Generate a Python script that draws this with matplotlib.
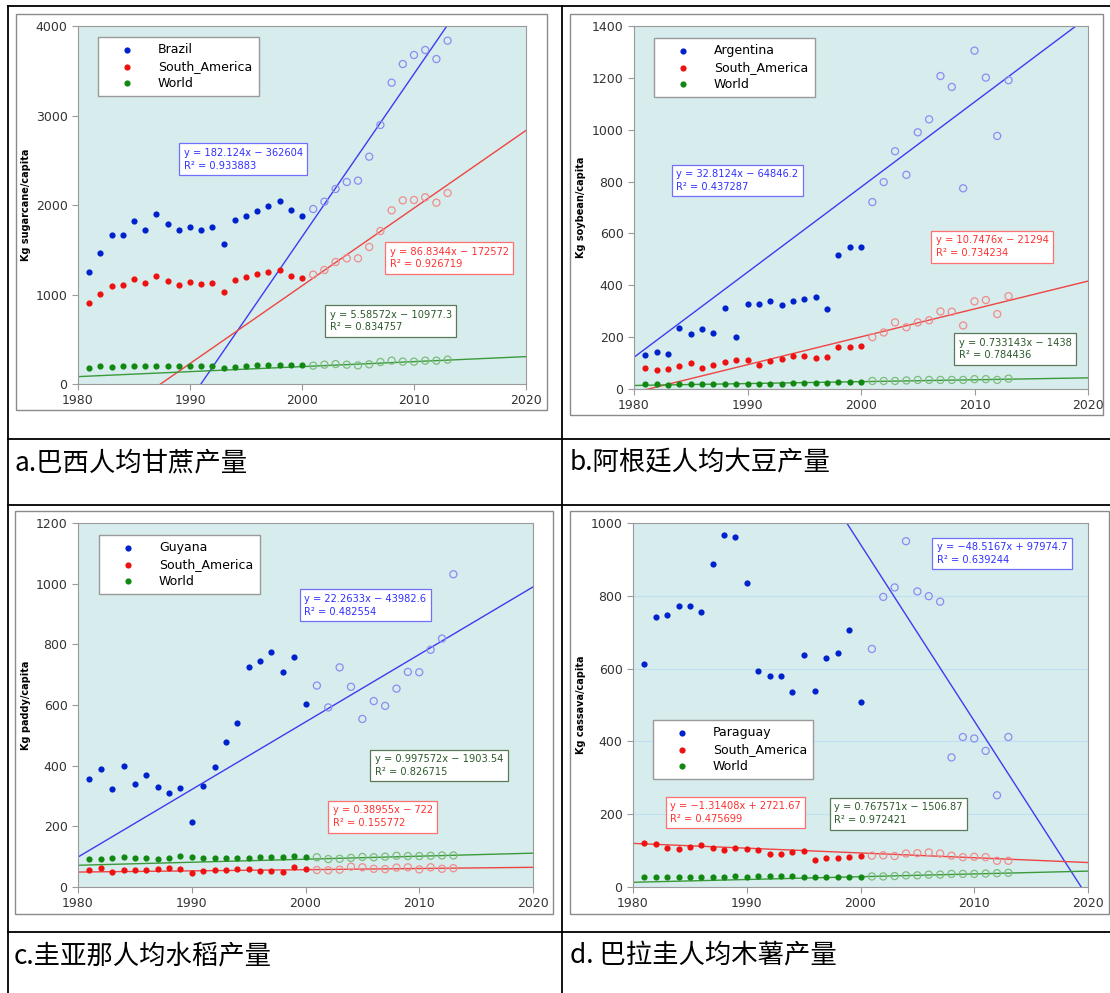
import numpy as np
import matplotlib.pyplot as plt
from matplotlib.lines import Line2D
from matplotlib.patches import Rectangle

years = np.arange(1981, 2014)

# a. sugarcane (kg/capita)
brazil_sugarcane = [1255, 1467, 1661, 1665, 1817, 1717, 1896, 1788, 1717, 1754,
                    1717, 1754, 1561, 1832, 1877, 1929, 1989, 2041, 1948, 1877,
                    1955, 2037, 2179, 2257, 2272, 2540, 2894, 3367, 3575, 3676,
                    3732, 3631, 3836]
sa_sugarcane = [901, 1009, 1099, 1102, 1177, 1125, 1207, 1151, 1106, 1136,
                1117, 1132, 1024, 1162, 1192, 1229, 1251, 1277, 1207, 1181,
                1222, 1274, 1363, 1404, 1404, 1531, 1709, 1940, 2052, 2056,
                2086, 2026, 2134]
world_sugarcane = [175, 197, 194, 201, 197, 197, 199, 197, 199, 201,
                   205, 201, 182, 190, 205, 212, 216, 216, 216, 212,
                   205, 216, 223, 216, 208, 220, 246, 261, 250, 250,
                   261, 261, 272]
sugarcane_fits = [(182.124, -362604), (86.8344, -172572), (5.58572, -10977.3)]
sugarcane_r2 = [0.933883, 0.926719, 0.834757]

# b. soybean
argentina_soybean = [131, 143, 136, 235, 213, 231, 216, 313, 202, 329,
                     329, 338, 325, 340, 348, 354, 308, 518, 547, 546,
                     721, 798, 917, 826, 990, 1040, 1207, 1165, 774, 1305,
                     1201, 976, 1191]
sa_soybean = [81, 72, 77, 90, 99, 80, 91, 104, 113, 112,
              94, 109, 117, 127, 127, 119, 123, 161, 161, 164,
              200, 218, 257, 238, 257, 265, 299, 298, 245, 338,
              343, 289, 358]
world_soybean = [21, 21, 15, 21, 20, 20, 20, 19, 20, 20,
                 20, 20, 20, 24, 23, 23, 24, 28, 27, 27,
                 31, 31, 31, 33, 35, 35, 35, 35, 35, 38,
                 38, 35, 40]
soybean_fits = [(32.8124, -64846.2), (10.7476, -21294), (0.733143, -1438)]
soybean_r2 = [0.437287, 0.734234, 0.784436]

# c. paddy
guyana_paddy = [356, 388, 322, 398, 341, 370, 331, 310, 325, 215,
                334, 395, 478, 540, 725, 744, 775, 709, 759, 603,
                664, 592, 724, 660, 554, 613, 597, 654, 709, 708,
                782, 819, 1031]
sa_paddy = [55, 62, 49, 56, 55, 56, 59, 63, 60, 46,
            52, 55, 55, 58, 59, 54, 52, 48, 65, 59,
            56, 55, 57, 67, 65, 60, 59, 64, 65, 58,
            65, 60, 62]
world_paddy = [91, 91, 96, 98, 96, 95, 91, 95, 101, 99,
               97, 97, 96, 96, 96, 98, 98, 98, 102, 99,
               98, 92, 93, 96, 99, 98, 100, 103, 102, 102,
               103, 104, 104]
paddy_fits = [(22.2633, -43982.6), (0.38955, -722), (0.997572, -1903.54)]
paddy_r2 = [0.482554, 0.155772, 0.826715]

# d. cassava
paraguay_cassava = [612, 742, 747, 773, 773, 755, 886, 967, 962, 835,
                    594, 580, 580, 537, 636, 539, 628, 644, 705, 509,
                    654, 797, 823, 950, 812, 799, 784, 356, 412, 408,
                    374, 252, 412]
sa_cassava = [122, 117, 107, 104, 109, 115, 107, 101, 107, 105,
              102, 91, 91, 96, 99, 73, 81, 79, 83, 86,
              86, 87, 85, 92, 93, 95, 92, 86, 82, 83,
              82, 72, 72]
world_cassava = [28, 28, 27, 28, 28, 27, 27, 28, 29, 28,
                 29, 29, 30, 30, 28, 27, 27, 27, 28, 28,
                 29, 29, 30, 32, 32, 34, 34, 36, 36, 36,
                 37, 38, 39]
cassava_fits = [(-48.5167, 97974.7), (-1.31408, 2721.67), (0.767571, -1506.87)]
cassava_r2 = [0.639244, 0.475699, 0.972421]

captions = ['a.巴西人均甘蔗产量', 'b.阿根廷人均大豆产量',
            'c.圭亚那人均水稻产量', 'd. 巴拉圭人均木薯产量']

W, H = 1110, 993
fig = plt.figure(figsize=(W / 100, H / 100), dpi=100)
fig.patch.set_facecolor('white')

dot_colors = ['#0022cc', '#ee1111', '#118811']
open_colors = ['#8c8cf2', '#f08c8c', '#7cbc7c']
line_colors = ['#3c3cf0', '#ee4444', '#3a9a3a']
text_colors = ['#3030ff', '#ff3030', '#2c5a2c']
edge_colors = ['#7070ff', '#ff7070', '#5a7a5a']


def fig_line(x0, y0, x1, y1, color='black', lw=1.3):
    fig.add_artist(Line2D([x0 / W, x1 / W], [1 - y0 / H, 1 - y1 / H],
                          transform=fig.transFigure, color=color, lw=lw))


def fig_frame(l, t, r, b):
    fig.add_artist(Rectangle((l / W, 1 - b / H), (r - l) / W, (b - t) / H,
                             transform=fig.transFigure, fill=False,
                             edgecolor='#8a8a8a', lw=1.0))


def fmt(v):
    return f'{v:g}'.replace('-', '\u2212')


def panel(rect, names, series, fits, r2, ylim, ystep, ylabel, label_x,
          leg_anchor, boxes, grid=False):
    l, t, r, b = rect
    ax = fig.add_axes([l / W, 1 - b / H, (r - l) / W, (b - t) / H])
    ax.set_facecolor('#d7ecec')
    filled = years <= 2000
    xs = np.array([1980, 2020])
    for i in range(3):
        vals = np.array(series[i])
        m, c = fits[i]
        ax.plot(xs, m * xs + c, color=line_colors[i], lw=1.0, zorder=2)
        ax.scatter(years[filled], vals[filled], s=20, color=dot_colors[i],
                   label=names[i], zorder=3, linewidths=0)
        ax.scatter(years[~filled], vals[~filled], s=26, facecolors='none',
                   edgecolors=open_colors[i], linewidths=0.9, zorder=3)
        sign = '+' if c >= 0 else '\u2212'
        txt = f'y = {fmt(m)}x {sign} {abs(c):g}\nR\u00b2 = {r2[i]:g}'
        ax.annotate(txt, xy=boxes[i], xytext=(3.5, -4), textcoords='offset points',
                    ha='left', va='top', fontsize=7.1, color=text_colors[i],
                    linespacing=1.35, zorder=5,
                    bbox=dict(boxstyle='square,pad=0.45', fc='white',
                              ec=edge_colors[i], lw=0.9))
    ax.set_xlim(1980, 2020)
    ax.set_ylim(*ylim)
    ax.set_xticks(range(1980, 2021, 10))
    ax.set_yticks(np.arange(ylim[0], ylim[1] + 1, ystep))
    if grid:
        for yv in np.arange(ylim[0] + ystep, ylim[1], ystep):
            ax.axhline(yv, color='#bfe0f2', lw=0.8, zorder=1)
    for s in ax.spines.values():
        s.set_color('#9a9a9a')
    ax.tick_params(direction='out', length=4, color='#9a9a9a',
                   labelcolor='#333333', labelsize=9, top=False, right=False)
    ax.set_ylabel(ylabel, fontsize=7, fontweight='bold', ha='center', va='center')
    ax.yaxis.set_label_coords((label_x - l) / (r - l), 0.5)
    leg = ax.legend(loc='upper left', bbox_to_anchor=leg_anchor, borderaxespad=0,
                    fontsize=9, frameon=True, fancybox=False, framealpha=1,
                    edgecolor='#9a9a9a', borderpad=0.5, handlelength=3.6,
                    handletextpad=0.7, labelspacing=0.3, scatterpoints=1)
    leg.get_frame().set_linewidth(1.0)
    leg.set_zorder(6)
    return ax


# table rules
fig_line(8, 6, W, 6)
fig_line(8, 6, 8, H)
fig_line(562, 6, 562, H)
for yy in (439, 505, 932):
    fig_line(8, yy, W, yy)

# embedded chart frames
fig_frame(16, 14, 547, 410)
fig_frame(570, 14, 1103, 415)
fig_frame(15, 511, 553, 914)
fig_frame(570, 511, 1109, 914)

panel((78, 26, 526, 384), ['Brazil', 'South_America', 'World'],
      [brazil_sugarcane, sa_sugarcane, world_sugarcane], sugarcane_fits, sugarcane_r2,
      (0, 4000), 1000, 'Kg sugarcane/capita', 26,
      (20 / 448, 1 - 11 / 358),
      [(1989.0, 2700), (2007.4, 1598), (2002.05, 894)])

panel((634, 26, 1088, 389), ['Argentina', 'South_America', 'World'],
      [argentina_soybean, sa_soybean, world_soybean], soybean_fits, soybean_r2,
      (0, 1400), 200, 'Kg soybean/capita', 581,
      (20 / 454, 1 - 12 / 363),
      [(1983.27, 870), (2006.16, 614), (2008.2, 220)])

panel((78, 523, 533, 887), ['Guyana', 'South_America', 'World'],
      [guyana_paddy, sa_paddy, world_paddy], paddy_fits, paddy_r2,
      (0, 1200), 200, 'Kg paddy/capita', 26,
      (21 / 455, 1 - 12 / 364),
      [(1999.45, 985), (2001.96, 287), (2005.66, 456)])

panel((633, 523, 1088, 887), ['Paraguay', 'South_America', 'World'],
      [paraguay_cassava, sa_cassava, world_cassava], cassava_fits, cassava_r2,
      (0, 1000), 200, 'Kg cassava/capita', 581,
      (20 / 455, 1 - 197 / 364),
      [(2006.28, 963), (1982.84, 251), (1997.27, 248)], grid=True)

cap_font = ['Noto Sans CJK SC', 'DejaVu Sans']
for (cx, cy), cap in zip([(14, 463), (570, 463), (14, 956), (570, 956)], captions):
    fig.text(cx / W, 1 - cy / H, cap, family=cap_font, fontsize=19,
             fontweight='light', ha='left', va='center', color='black')

fig.savefig('out.png', dpi=100)
